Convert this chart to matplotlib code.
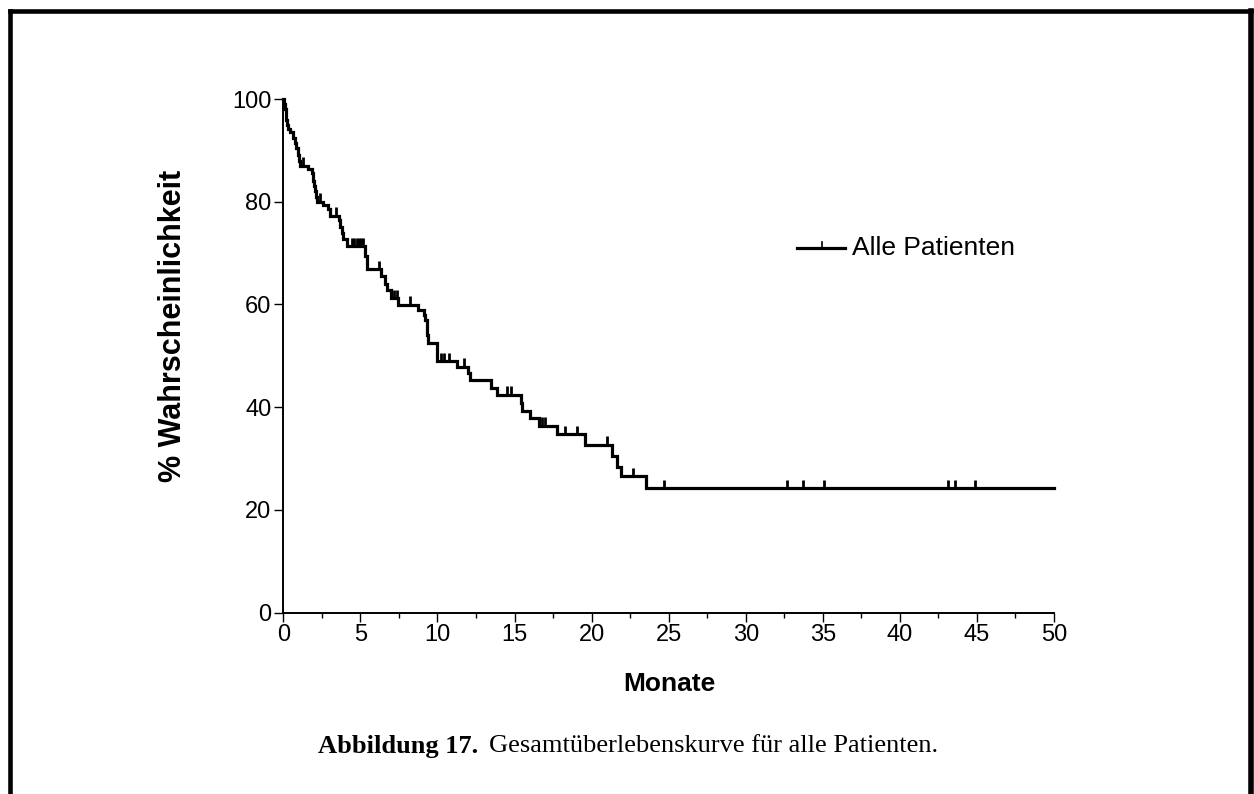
import numpy as np
import matplotlib
matplotlib.use("Agg")
import matplotlib.pyplot as plt
from matplotlib.lines import Line2D

# ---- data ----
event_times = [0.05, 0.1, 0.15, 0.2, 0.27, 0.33, 0.45, 0.6, 0.75, 0.85, 0.95, 1.0,
               1.08, 1.6, 1.85, 1.95, 2.0, 2.05, 2.12, 2.2, 2.6, 2.9, 3.05, 3.6,
               3.7, 3.8, 3.85, 4.15, 5.3, 5.45, 6.35, 6.6, 6.7, 7.0, 7.45, 8.75,
               9.1, 9.2, 9.3, 9.35, 9.42, 9.95, 11.25, 12.0, 12.1, 13.45, 13.85,
               15.4, 15.5, 16.0, 16.6, 17.75, 19.6, 21.3, 21.65, 21.9, 23.55]
survival_pct = [99, 98, 97, 96, 95, 94.2, 93.5, 92.5, 91.5, 90.5, 89, 88,
                87, 86.3, 85.5, 84, 83, 82, 81, 80, 79.3, 78.5, 77.2, 76.5,
                75, 74, 72.8, 71.3, 69.5, 66.8, 65.5, 64, 62.8, 61.2, 59.9, 58.9,
                58, 57, 55.5, 54, 52.4, 48.9, 47.9, 46.7, 45.3, 43.7, 42.4,
                40.8, 39.3, 37.9, 36.3, 34.7, 32.7, 30.5, 28.4, 26.5, 24.2]
censor_times = [1.3, 2.4, 3.45, 4.45, 4.6, 4.75, 4.9, 5.05, 5.2, 6.2, 7.15, 7.35,
                8.2, 10.2, 10.45, 10.75, 11.7, 14.5, 14.8, 16.8, 17.0, 18.3, 19.05,
                21.0, 22.7, 24.7, 32.7, 33.7, 35.1, 43.1, 43.6, 44.9]
last_follow_up = 50
x_ticks = [0, 5, 10, 15, 20, 25, 30, 35, 40, 45, 50]
y_ticks = [0, 20, 40, 60, 80, 100]
series_name = "Alle Patienten"
x_label = "Monate"
y_label = "% Wahrscheinlichkeit"
caption_bold = "Abbildung 17."
caption_text = "Gesamtüberlebenskurve für alle Patienten."

W, H, DPI = 1254, 794, 100
fig = plt.figure(figsize=(W / DPI, H / DPI), dpi=DPI)
plt.rcParams['font.family'] = ['Liberation Sans', 'DejaVu Sans']

def fx(px):
    return px / W

def fy(py):
    return 1 - py / H

ax_l, ax_r, ax_b, ax_t = 283.3, 1054, 612.5, 99
ax = fig.add_axes([fx(ax_l), fy(ax_b), fx(ax_r) - fx(ax_l), fy(ax_t) - fy(ax_b)])

xs = [0] + event_times + [last_follow_up]
ys = [100] + survival_pct + [survival_pct[-1]]
ax.step(xs, ys, where='post', color='black', lw=2.3, clip_on=False,
        solid_joinstyle='miter')

# censor marks
et = np.array(event_times)
sv = np.array(survival_pct)
cy = []
for c in censor_times:
    idx = np.searchsorted(et, c, side='right') - 1
    cy.append(100 if idx < 0 else sv[idx])
cy = np.array(cy)
ax.vlines(censor_times, cy, cy + 1.7, color='black', lw=2.0, clip_on=False)

ax.set_xlim(0, 50)
ax.set_ylim(0, 100)
for s in ['top', 'right']:
    ax.spines[s].set_visible(False)
for s in ['left', 'bottom']:
    ax.spines[s].set_linewidth(1.4)
ax.set_xticks(x_ticks)
ax.set_xticks(np.arange(2.5, 50, 5), minor=True)
ax.set_yticks(y_ticks)
ax.tick_params(axis='both', which='major', direction='out', length=6.5, width=1.0,
               labelsize=17, pad=2, colors='black')
ax.tick_params(axis='x', which='minor', direction='out', length=3.8, width=1.0)
ax.set_xlabel(x_label, fontsize=19, fontweight='bold')
ax.set_ylabel(y_label, fontsize=22, fontweight='bold')

def to_ax(px, py):
    return ((px - ax_l) / (ax_r - ax_l), (ax_b - py) / (ax_b - ax_t))

ax.xaxis.set_label_coords(*to_ax(669, 684))
ax.xaxis.label.set_va('center')
ax.yaxis.set_label_coords(*to_ax(173, 326))
ax.yaxis.label.set_va('center')

# legend (drawn manually in figure coords)
lx0, lx1, ly = 797, 845, 248
fig.add_artist(Line2D([fx(lx0), fx(lx1)], [fy(ly), fy(ly)], color='black', lw=2.3))
fig.add_artist(Line2D([fx(821.5), fx(821.5)], [fy(ly), fy(ly - 6)], color='black', lw=1.2))
fig.text(fx(852), fy(ly), series_name, fontsize=19, va='center', ha='left')

# caption
fig.text(fx(318), fy(746), caption_bold, fontsize=19, fontweight='bold',
         family='Liberation Serif', va='center', ha='left')
fig.text(fx(489), fy(746), caption_text, fontsize=19,
         family='Liberation Serif', va='center', ha='left')

# frame
bw = 3.3
fig.add_artist(Line2D([fx(9.5), fx(9.5)], [fy(11), fy(H + 5)], color='black', lw=bw,
                      solid_capstyle='projecting'))
fig.add_artist(Line2D([fx(9.5), fx(1251.3)], [fy(11), fy(11)], color='black', lw=bw,
                      solid_capstyle='projecting'))
fig.add_artist(Line2D([fx(1251.3), fx(1251.3)], [fy(11), fy(H + 5)], color='black', lw=4,
                      solid_capstyle='projecting'))

fig.savefig("out.png", dpi=DPI)
